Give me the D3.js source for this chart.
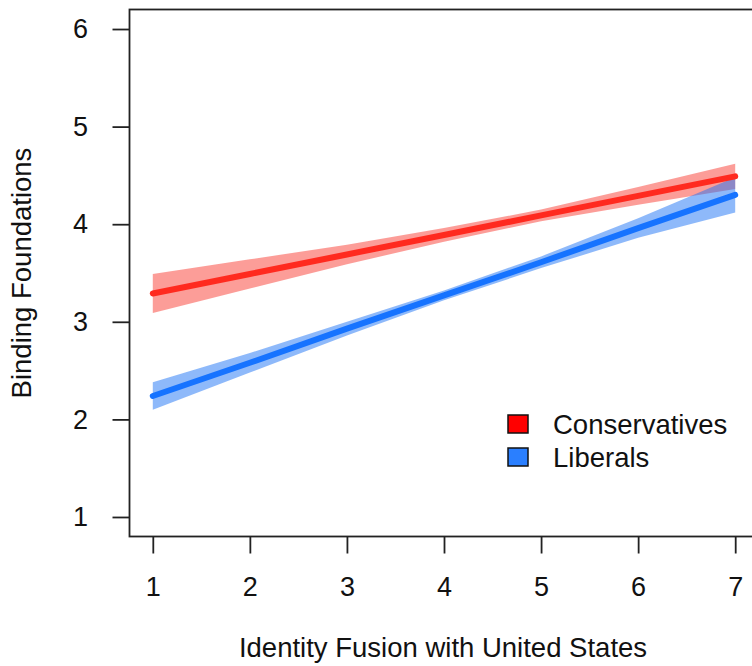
<!DOCTYPE html>
<html>
<head>
<meta charset="utf-8">
<script src="https://cdn.jsdelivr.net/npm/d3@7"></script>
<style>
  body { margin: 0; background: #fff; }
  text { font-family: "Liberation Sans", Arial, sans-serif; fill: #111; }
</style>
</head>
<body>
<div id="chart"></div>
<script>
// fusion scores along the x axis
const fusion = [1, 2, 3, 4, 5, 6, 7];

// predicted binding foundations, with confidence band limits
const consFit   = [3.29, 3.49, 3.69, 3.89, 4.09, 4.29, 4.49];
const consLower = [3.09, 3.34, 3.59, 3.82, 4.03, 4.20, 4.36];
const consUpper = [3.49, 3.64, 3.79, 3.96, 4.15, 4.38, 4.62];

const libFit   = [2.24, 2.58, 2.93, 3.27, 3.61, 3.96, 4.30];
const libLower = [2.10, 2.48, 2.86, 3.22, 3.55, 3.86, 4.12];
const libUpper = [2.38, 2.68, 3.00, 3.32, 3.67, 4.06, 4.48];

const xTicks = [1, 2, 3, 4, 5, 6, 7];
const yTicks = [1, 2, 3, 4, 5, 6];

const groups = [
  { name: "Conservatives", fit: consFit, lo: consLower, hi: consUpper,
    line: "#ff2a1f", band: "rgba(250,60,50,0.5)", key: "#ff0000" },
  { name: "Liberals", fit: libFit, lo: libLower, hi: libUpper,
    line: "#1673ff", band: "rgba(30,115,245,0.5)", key: "#2a7fff" }
];

const W = 752, H = 666;
const svg = d3.select("#chart").append("svg").attr("width", W).attr("height", H);

// R-style 4% padding on the ranges
const x = d3.scaleLinear().domain([0.76, 7.24]).range([129.5, 758.5]);
const y = d3.scaleLinear().domain([0.8, 6.2]).range([536.5, 9.5]);

// confidence bands
const area = d3.area()
  .x((d, i) => x(fusion[i]))
  .y0(d => y(d[0]))
  .y1(d => y(d[1]));

groups.forEach(g => {
  svg.append("path")
    .datum(g.lo.map((v, i) => [v, g.hi[i]]))
    .attr("d", area)
    .attr("fill", g.band);
});

// fitted lines
const line = d3.line().x((d, i) => x(fusion[i])).y(d => y(d));
groups.forEach(g => {
  svg.append("path")
    .datum(g.fit)
    .attr("d", line)
    .attr("fill", "none")
    .attr("stroke", g.line)
    .attr("stroke-width", 6)
    .attr("stroke-linecap", "round");
});

// box
svg.append("rect")
  .attr("x", x.range()[0]).attr("y", y.range()[1])
  .attr("width", x.range()[1] - x.range()[0])
  .attr("height", y.range()[0] - y.range()[1])
  .attr("fill", "none").attr("stroke", "#222").attr("stroke-width", 1.8);

// axes
const xAxis = svg.append("g")
  .attr("transform", `translate(0,${y.range()[0]})`)
  .call(d3.axisBottom(x).tickValues(xTicks).tickFormat(d3.format("d"))
    .tickSize(17).tickPadding(23).tickSizeOuter(0));
const yAxis = svg.append("g")
  .attr("transform", `translate(${x.range()[0]},0)`)
  .call(d3.axisLeft(y).tickValues(yTicks).tickFormat(d3.format("d"))
    .tickSize(17).tickPadding(25).tickSizeOuter(0));

[xAxis, yAxis].forEach(a => {
  a.select(".domain").remove();
  a.selectAll(".tick line").attr("stroke", "#222").attr("stroke-width", 1.8);
  a.selectAll(".tick text")
    .style("font-family", '"Liberation Sans", Arial, sans-serif')
    .style("font-size", "27px").attr("fill", "#111");
});
yAxis.selectAll(".tick text").attr("text-anchor", "middle").attr("dx", "-7");

// axis titles
svg.append("text")
  .attr("x", 443).attr("y", 657)
  .attr("text-anchor", "middle")
  .style("font-size", "27.5px")
  .text("Identity Fusion with United States");

svg.append("text")
  .attr("transform", "translate(31,273) rotate(-90)")
  .attr("text-anchor", "middle")
  .style("font-size", "27.5px")
  .text("Binding Foundations");

// legend
const legend = svg.append("g").attr("transform", "translate(508,415)");
groups.forEach((g, i) => {
  legend.append("rect")
    .attr("x", 0).attr("y", i * 33)
    .attr("width", 20).attr("height", 18)
    .attr("fill", g.key).attr("stroke", "#111").attr("stroke-width", 1.5);
  legend.append("text")
    .attr("x", 45).attr("y", i * 33 + 19)
    .style("font-size", "27.5px")
    .text(g.name);
});
</script>
</body>
</html>
